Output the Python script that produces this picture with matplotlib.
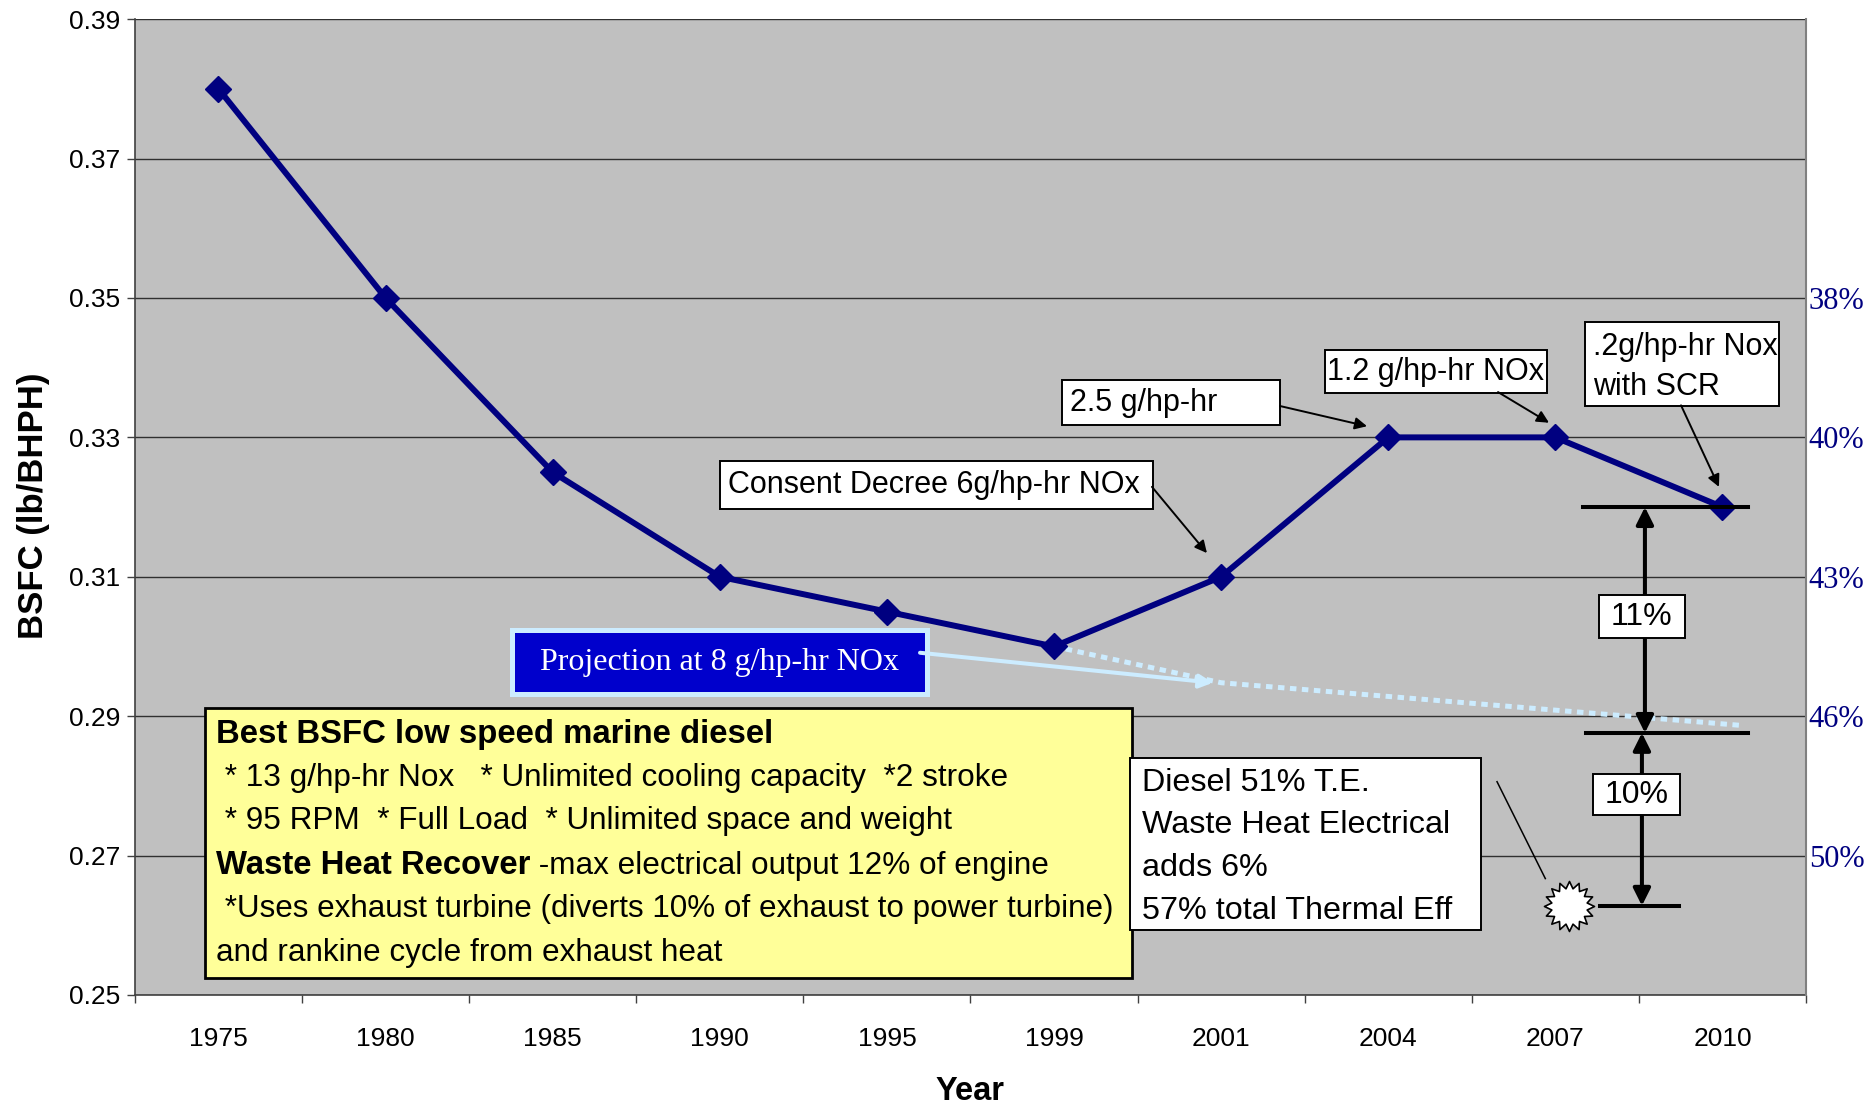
import matplotlib
matplotlib.use('Agg')
import matplotlib.pyplot as plt
from matplotlib.patches import Rectangle
from matplotlib.path import Path
import numpy as np

# ---------------- data ----------------
years = ['1975', '1980', '1985', '1990', '1995', '1999', '2001', '2004', '2007', '2010']
bsfc = [0.38, 0.35, 0.325, 0.31, 0.305, 0.30, 0.31, 0.33, 0.33, 0.32]
proj_pos = [5, 6, 9.1]                  # category positions of projection line
proj_bsfc = [0.300, 0.2948, 0.2887]     # projection at 8 g/hp-hr NOx
left_ticks = [0.25, 0.27, 0.29, 0.31, 0.33, 0.35, 0.37, 0.39]
right_ticks = [0.35, 0.33, 0.31, 0.29, 0.27]
right_labels = ['38%', '40%', '43%', '46%', '50%']
meas_levels = [0.32, 0.2876, 0.2628]    # current, projected, waste-heat BSFC
meas_labels = ['11%', '10%']

SANS = 'Liberation Sans'
SERIF = 'Liberation Serif'
NAVY = '#000080'
LIGHTBLUE = '#CCECFF'

fig = plt.figure(figsize=(18.69, 11.08), dpi=100)
ax = fig.add_axes([0.0722, 0.102, 0.8941, 0.8807])
ax.set_facecolor('#C0C0C0')
x = np.arange(len(years))
ax.set_xlim(-0.5, 9.5)
ax.set_ylim(0.25, 0.39)

# grid / spines
ax.set_yticks(left_ticks)
ax.set_yticklabels([f'{v:.2f}' for v in left_ticks], fontsize=19, family=SANS)
ax.yaxis.grid(True, color='#303030', lw=1.0)
ax.set_axisbelow(True)
for s in ['top', 'right']:
    ax.spines[s].set_visible(False)
for s in ['left', 'bottom']:
    ax.spines[s].set_color('#404040')
    ax.spines[s].set_linewidth(1.2)
ax.tick_params(axis='y', direction='out', length=5.8, width=1, color='#404040', pad=5)

ax.set_xticks(x)
ax.set_xticklabels(years, fontsize=19, family=SANS)
ax.set_xticks(np.arange(-0.5, 10, 1), minor=True)
ax.tick_params(axis='x', which='major', length=0, pad=23)
ax.tick_params(axis='x', which='minor', length=5.8, width=1, color='#404040', direction='out')

ax.set_ylabel('BSFC (lb/BHPH)', fontsize=25, fontweight='bold', family=SANS)
ax.yaxis.set_label_coords(-0.061, 0.501)
ax.set_xlabel('Year', fontsize=23.5, fontweight='bold', family=SANS)
ax.xaxis.set_label_coords(0.5, -0.099)
ax.xaxis.label.set_va('center')
ax.yaxis.label.set_va('center')

# secondary axis (thermal efficiency)
ax2 = ax.twinx()
ax2.set_ylim(ax.get_ylim())
ax2.set_yticks(right_ticks)
ax2.set_yticklabels(right_labels, fontsize=22, family=SERIF, color=NAVY)
ax2.tick_params(axis='y', length=0, pad=2)
for s in ['top', 'left', 'bottom']:
    ax2.spines[s].set_visible(False)
ax2.spines['right'].set_color('#808080')
ax2.spines['right'].set_linewidth(1.5)

# projection line
ax.plot(proj_pos, proj_bsfc, color=LIGHTBLUE, lw=3.6, linestyle=(0, (1.3, 1.1)),
        dash_capstyle='butt', zorder=4)
# main series
ax.plot(x, bsfc, color=NAVY, lw=4.3, marker='D', ms=13, zorder=5, clip_on=False)


def rect(x0, x1, y0, y1, fc='white', ec='black', lw=1.4, z=6):
    ax.add_patch(Rectangle((x0, y0), x1 - x0, y1 - y0, facecolor=fc, edgecolor=ec,
                           lw=lw, zorder=z))


def arrow(start, end, color='black', lw=1.4, ms=18, style='-|>', z=7):
    ax.annotate('', xy=end, xytext=start,
                arrowprops=dict(arrowstyle=style, color=color, lw=lw, mutation_scale=ms,
                                shrinkA=0, shrinkB=0), zorder=z)


FS = 22
FSB = 22.7   # yellow box body text
# Consent decree
rect(3.001, 5.592, 0.3197, 0.3266)
ax.text(3.049, 0.3232, 'Consent Decree 6g/hp-hr NOx', fontsize=FS, family=SANS,
        va='center', ha='left', zorder=8)
arrow((5.586, 0.3229), (5.915, 0.3134))
# 2.5 g/hp-hr
rect(5.048, 6.352, 0.3318, 0.3382)
ax.text(5.096, 0.3350, '2.5 g/hp-hr', fontsize=FS, family=SANS, va='center', ha='left', zorder=8)
arrow((6.352, 0.3345), (6.873, 0.3316))
# 1.2 g/hp-hr
rect(6.621, 7.950, 0.3364, 0.3425)
ax.text(7.285, 0.3394, '1.2 g/hp-hr NOx', fontsize=FS, family=SANS, va='center', ha='center', zorder=8)
arrow((7.657, 0.3365), (7.962, 0.3321))
# .2 g/hp-hr
rect(8.177, 9.338, 0.3345, 0.3466)
ax.text(8.225, 0.3430, '.2g/hp-hr Nox', fontsize=FS, family=SANS, va='center', ha='left', zorder=8)
ax.text(8.225, 0.3372, 'with SCR', fontsize=FS, family=SANS, va='center', ha='left', zorder=8)
arrow((8.752, 0.3346), (8.979, 0.3229))

# Projection label
rect(1.756, 4.240, 0.2932, 0.3023, fc='#0000CC', ec=LIGHTBLUE, lw=3.6)
ax.text(2.997, 0.2977, 'Projection at 8 g/hp-hr NOx', fontsize=23, family=SERIF, color='white',
        va='center', ha='center', zorder=8)
arrow((4.198, 0.2991), (5.951, 0.2948), color=LIGHTBLUE, lw=2.9, ms=20)

# Yellow information box
rect(-0.081, 5.466, 0.2524, 0.2912, fc='#FFFF99', ec='black', lw=2.0)
ybase = [0.2874, 0.2812, 0.2749, 0.2686, 0.2623, 0.2560]
ax.text(-0.015, ybase[0], 'Best BSFC low speed marine diesel', fontsize=23.7, family=SANS,
        fontweight='bold', va='center', ha='left', zorder=8)
ax.text(-0.015, ybase[1], ' * 13 g/hp-hr Nox   * Unlimited cooling capacity  *2 stroke',
        fontsize=FSB, family=SANS, va='center', ha='left', zorder=8)
ax.text(-0.015, ybase[2], ' * 95 RPM  * Full Load  * Unlimited space and weight',
        fontsize=FSB, family=SANS, va='center', ha='left', zorder=8)
tb = ax.text(-0.015, ybase[3], 'Waste Heat Recover', fontsize=23.7, family=SANS,
             fontweight='bold', va='center', ha='left', zorder=8)
ax.annotate(' -max electrical output 12% of engine', xy=(1, 0), xycoords=tb,
            fontsize=FSB, family=SANS, va='bottom', ha='left', zorder=8)
ax.text(-0.015, ybase[4], ' *Uses exhaust turbine (diverts 10% of exhaust to power turbine)',
        fontsize=22.6, family=SANS, va='center', ha='left', zorder=8)
ax.text(-0.015, ybase[5], 'and rankine cycle from exhaust heat',
        fontsize=FSB, family=SANS, va='center', ha='left', zorder=8)

# Diesel box
rect(5.454, 7.555, 0.2593, 0.2840, lw=1.4)
for yy, t in zip([0.2804, 0.2744, 0.2682, 0.2621],
                 ['Diesel 51% T.E.', 'Waste Heat Electrical', 'adds 6%', '57% total Thermal Eff']):
    ax.text(5.526, yy, t, fontsize=23.3, family=SANS, va='center', ha='left', zorder=8)

# leader line to starburst
ax.plot([7.651, 7.94], [0.2806, 0.2667], color='black', lw=1.1, zorder=7)
n = 16
ang = np.linspace(0, 2 * np.pi, 2 * n, endpoint=False) + np.pi / 2
rad = np.where(np.arange(2 * n) % 2 == 0, 1.0, 0.72)
verts = np.column_stack([rad * np.cos(ang), rad * np.sin(ang)])
verts = np.vstack([verts, verts[:1]])
star = Path(verts, closed=True)
ax.plot([8.082], [meas_levels[2]], marker=star, ms=36, mfc='white', mec='black', mew=1.2,
        zorder=8, linestyle='none')

# measurement bars and arrows
ax.plot([8.166, 9.153], [meas_levels[0]] * 2, color='black', lw=2.9, zorder=7)
ax.plot([8.183, 9.153], [meas_levels[1]] * 2, color='black', lw=2.9, zorder=7)
ax.plot([8.267, 8.740], [meas_levels[2]] * 2, color='black', lw=2.9, zorder=7)
arrow((8.536, meas_levels[0]), (8.536, meas_levels[1]), lw=2.9, ms=26, style='<|-|>')
arrow((8.518, meas_levels[1]), (8.518, meas_levels[2]), lw=2.9, ms=26, style='<|-|>')
rect(8.261, 8.776, 0.3012, 0.3074, lw=1.4, z=9)
ax.text(8.518, 0.3043, meas_labels[0], fontsize=23, family=SANS, va='center', ha='center', zorder=10)
rect(8.225, 8.746, 0.2758, 0.2817, lw=1.4, z=9)
ax.text(8.486, 0.2787, meas_labels[1], fontsize=23, family=SANS, va='center', ha='center', zorder=10)

fig.savefig('out.png', dpi=100, facecolor='white')
